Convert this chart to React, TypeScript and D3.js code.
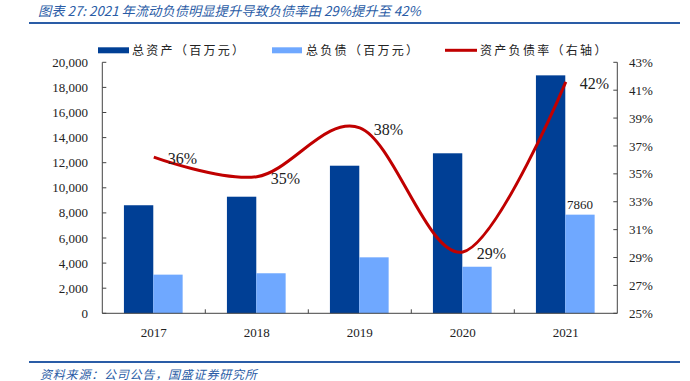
import React from "react";
import * as d3 from "d3";

const years = ["2017", "2018", "2019", "2020", "2021"];
const totalAssets = [8610, 9290, 11760, 12750, 18960];
const totalLiabilities = [3080, 3190, 4460, 3710, 7860];
const debtRatio = [36.2, 34.8, 38.3, 29.4, 41.6];
const ratioLabels = ["36%", "35%", "38%", "29%", "42%"];
const leftTicks = [0, 2000, 4000, 6000, 8000, 10000, 12000, 14000, 16000, 18000, 20000];
const rightTicks = [25, 27, 29, 31, 33, 35, 37, 39, 41, 43];
const legendLabels = ["总资产（百万元）", "总负债（百万元）", "资产负债率（右轴）"];
const title = "图表 27:  2021 年流动负债明显提升导致负债率由 29%提升至 42%";
const source = "资料来源：公司公告，国盛证券研究所";

const W = 690, H = 381;
const L = 102.3, R = 617.3, T = 62.3, B = 313.3;
const DARK = "#003F95";
const LIGHT = "#6FA8FF";
const RED = "#C00000";
const BLUE = "#2A5CA6";
const AXIS = "#444";
const SERIF = "'Liberation Serif', 'Times New Roman', serif";
const CJK = "'Noto Sans CJK SC', sans-serif";

export default function App() {
  const x = d3.scaleBand<string>().domain(years).range([L, R]).paddingInner(0).paddingOuter(0);
  const bw = x.bandwidth();
  const yL = d3.scaleLinear().domain([0, 20000]).range([B, T]);
  const yR = d3.scaleLinear().domain([25, 43]).range([B, T]);
  const pad = bw * 0.21;
  const barW = bw * 0.285;
  const cx = (y: string) => (x(y) as number) + bw / 2;
  const line = d3
    .line<number>()
    .x((_, i) => cx(years[i]))
    .y((d) => yR(d))
    .curve(d3.curveCardinal.tension(0));
  const fmt = d3.format(",");

  return (
    <svg width={W} height={H} style={{ position: "absolute", left: 0, top: 0, background: "#fff" }}>
      {/* title */}
      <text x={38} y={15.5} fontFamily={CJK} fontSize={13.3} fontStyle="italic" fill={BLUE}>
        {title}
      </text>
      <line x1={29} x2={680} y1={23} y2={23} stroke={BLUE} strokeWidth={2} />

      {/* legend */}
      <rect x={98} y={47.3} width={31} height={6} fill={DARK} />
      <text x={132} y={54.5} fontFamily={CJK} fontSize={12} letterSpacing={2.3} fill="#222">{legendLabels[0]}</text>
      <rect x={272} y={47.3} width={30} height={6} fill={LIGHT} />
      <text x={306} y={54.5} fontFamily={CJK} fontSize={12} letterSpacing={2.3} fill="#222">{legendLabels[1]}</text>
      <line x1={445} x2={477} y1={50.3} y2={50.3} stroke={RED} strokeWidth={3} />
      <text x={480} y={54.5} fontFamily={CJK} fontSize={12} letterSpacing={2.3} fill="#222">{legendLabels[2]}</text>

      {/* bars */}
      {years.map((yr, i) => (
        <g key={yr}>
          <rect x={(x(yr) as number) + pad} y={yL(totalAssets[i])} width={barW} height={B - yL(totalAssets[i])} fill={DARK} />
          <rect x={(x(yr) as number) + pad + barW} y={yL(totalLiabilities[i])} width={barW} height={B - yL(totalLiabilities[i])} fill={LIGHT} />
        </g>
      ))}

      {/* axes */}
      <line x1={L} x2={L} y1={T} y2={B} stroke={AXIS} strokeWidth={1} />
      <line x1={R} x2={R} y1={T} y2={B} stroke={AXIS} strokeWidth={1} />
      <line x1={L} x2={R} y1={B} y2={B} stroke={AXIS} strokeWidth={1} />
      {leftTicks.map((t) => (
        <g key={"l" + t}>
          <line x1={L} x2={L + 4} y1={yL(t)} y2={yL(t)} stroke={AXIS} />
          <text x={88} y={yL(t)} dy="0.35em" textAnchor="end" fontFamily={SERIF} fontSize={13} fill="#222">
            {fmt(t)}
          </text>
        </g>
      ))}
      {rightTicks.map((t) => (
        <g key={"r" + t}>
          <line x1={R - 4} x2={R} y1={yR(t)} y2={yR(t)} stroke={AXIS} />
          <text x={629} y={yR(t)} dy="0.35em" textAnchor="start" fontFamily={SERIF} fontSize={13} fill="#222">
            {t}%
          </text>
        </g>
      ))}
      {years.map((yr, i) => (
        <g key={"c" + yr}>
          {i > 0 && <line x1={x(yr) as number} x2={x(yr) as number} y1={B - 4} y2={B} stroke={AXIS} />}
          <text x={cx(yr)} y={332} dy="0.35em" textAnchor="middle" fontFamily={SERIF} fontSize={13} fill="#222">
            {yr}
          </text>
        </g>
      ))}

      {/* line */}
      <path d={line(debtRatio) || ""} fill="none" stroke={RED} strokeWidth={3} />
      {debtRatio.map((v, i) => (
        <text key={"lab" + i} x={cx(years[i]) + 14} y={yR(v) + 1.5} dy="0.35em" fontFamily={SERIF} fontSize={16} fill="#222">
          {ratioLabels[i]}
        </text>
      ))}
      <text
        x={(x(years[4]) as number) + pad + barW * 1.5}
        y={yL(totalLiabilities[4]) - 6}
        textAnchor="middle"
        fontFamily={SERIF}
        fontSize={13}
        fill="#222"
      >
        {totalLiabilities[4]}
      </text>

      {/* footer */}
      <line x1={29} x2={680} y1={362} y2={362} stroke={BLUE} strokeWidth={2} />
      <text x={40} y={379} fontFamily={CJK} fontSize={12} fontStyle="italic" letterSpacing={0.8} fill={BLUE}>
        {source}
      </text>
    </svg>
  );
}
